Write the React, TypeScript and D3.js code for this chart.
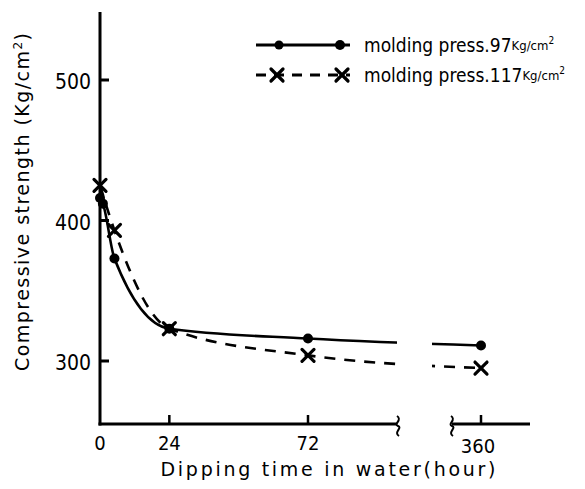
import React from "react";
import * as d3 from "d3";

// Dipping time (hours) and compressive strength (Kg/cm²)
const hours97 = [0, 1, 5, 24, 72, 360];
const strength97 = [416, 412, 373, 323, 316, 311];
const hours117 = [0, 5, 24, 72, 360];
const strength117 = [425, 393, 323, 304, 295];
const xTicks = [0, 24, 72, 360];
const yTicks = [300, 400, 500];
const legendLabels = ["molding press.97", "molding press.117"];

const W = 585;
const H = 489;

// broken time axis: 0..103 h on the first segment, 340..378 h after the break
const x = d3
  .scaleLinear()
  .domain([0, 72, 103, 115, 360, 378])
  .range([100, 308, 397, 432, 481, 530]);
const y = d3.scaleLinear().domain([300, 500]).range([361, 80]);

const line = d3
  .line<[number, number]>()
  .x((d) => x(d[0]))
  .y((d) => y(d[1]))
  .curve(d3.curveMonotoneX);

const font = "'DejaVu Sans Condensed', 'DejaVu Sans', sans-serif";
const labelFont = "'DejaVu Sans', sans-serif";

function Cross({ cx, cy, s = 6 }: { cx: number; cy: number; s?: number }) {
  return (
    <g stroke="#000" strokeWidth={3.2} strokeLinecap="round">
      <line x1={cx - s} y1={cy - s} x2={cx + s} y2={cy + s} />
      <line x1={cx - s} y1={cy + s} x2={cx + s} y2={cy - s} />
    </g>
  );
}

function Squiggle({ cx, cy }: { cx: number; cy: number }) {
  const p = d3.path();
  p.moveTo(cx - 1, cy - 10);
  p.bezierCurveTo(cx + 5, cy - 6, cx - 5, cy - 2, cx, cy);
  p.bezierCurveTo(cx + 5, cy + 2, cx - 5, cy + 6, cx + 1, cy + 10);
  return <path d={p.toString()} fill="none" stroke="#000" strokeWidth={2} />;
}

export default function App() {
  const pts97 = hours97.map((h, i) => [h, strength97[i]] as [number, number]);
  const pts117 = hours117.map((h, i) => [h, strength117[i]] as [number, number]);
  const axisY = 424;
  return (
    <svg width={W} height={H} style={{ position: "absolute", left: 0, top: 0, background: "#fff" }}>
      <defs>
        <clipPath id="gap">
          <rect x={0} y={0} width={397} height={H} />
          <rect x={432} y={0} width={W - 432} height={H} />
        </clipPath>
      </defs>
      {/* axes */}
      <line x1={100} y1={12} x2={100} y2={axisY + 1.5} stroke="#000" strokeWidth={3} />
      <line x1={98.5} y1={axisY} x2={x(103)} y2={axisY} stroke="#000" strokeWidth={3} />
      <line x1={452} y1={axisY} x2={530} y2={axisY} stroke="#000" strokeWidth={3} />
      <Squiggle cx={x(103) + 1} cy={axisY + 2} />
      <Squiggle cx={452} cy={axisY + 2} />
      {yTicks.map((t) => (
        <g key={t}>
          <line x1={100} y1={y(t)} x2={109} y2={y(t)} stroke="#000" strokeWidth={3} />
          <text x={91} y={y(t) + 9} textAnchor="end" fontFamily={font} fontSize={21}>
            {t}
          </text>
        </g>
      ))}
      {xTicks.map((t) => (
        <g key={t}>
          {t > 0 && (
            <line x1={x(t)} y1={axisY} x2={x(t)} y2={axisY - 9} stroke="#000" strokeWidth={2.5} />
          )}
          <text
            x={x(t) - (t === 360 ? 3 : 0)}
            y={t === 360 ? 453 : 450}
            textAnchor="middle"
            fontFamily={font}
            fontSize={20}
          >
            {t}
          </text>
        </g>
      ))}
      <text
        x={328}
        y={476}
        textAnchor="middle"
        fontFamily={labelFont}
        fontSize={19}
        textLength={335}
        lengthAdjust="spacing"
      >
        Dipping time in water(hour)
      </text>
      <text
        transform="translate(29,202) rotate(-90)"
        textAnchor="middle"
        fontFamily={labelFont}
        fontSize={19}
        textLength={338}
        lengthAdjust="spacing"
      >
        Compressive strength (Kg/cm<tspan dy={-7} fontSize={12}>2</tspan>
        <tspan dy={7}>)</tspan>
      </text>

      {/* curves */}
      <g clipPath="url(#gap)" fill="none" stroke="#000">
        <path d={line(pts97) ?? ""} strokeWidth={2.6} />
        <path d={line(pts117) ?? ""} strokeWidth={2.6} strokeDasharray="11,9" />
      </g>
      {pts97.map((d, i) => (
        <circle key={i} cx={x(d[0])} cy={y(d[1])} r={5} fill="#000" />
      ))}
      {pts117.map((d, i) => (
        <Cross key={i} cx={x(d[0])} cy={y(d[1])} />
      ))}

      {/* legend */}
      <line x1={256} y1={45} x2={350} y2={45} stroke="#000" strokeWidth={3} />
      <circle cx={279} cy={45} r={4.5} fill="#000" />
      <circle cx={340} cy={45} r={5} fill="#000" />
      <text x={364} y={52} fontFamily={font} fontSize={19}>
        {legendLabels[0]}
        <tspan fontSize={13} dy={-2}>Kg/cm</tspan>
        <tspan fontSize={10} dy={-6}>2</tspan>
      </text>
      <line x1={256} y1={75} x2={350} y2={75} stroke="#000" strokeWidth={3} strokeDasharray="10,8" />
      <Cross cx={277} cy={75} />
      <Cross cx={342} cy={75} />
      <text x={364} y={82} fontFamily={font} fontSize={19}>
        {legendLabels[1]}
        <tspan fontSize={13} dy={-2}>Kg/cm</tspan>
        <tspan fontSize={10} dy={-6}>2</tspan>
      </text>
    </svg>
  );
}
